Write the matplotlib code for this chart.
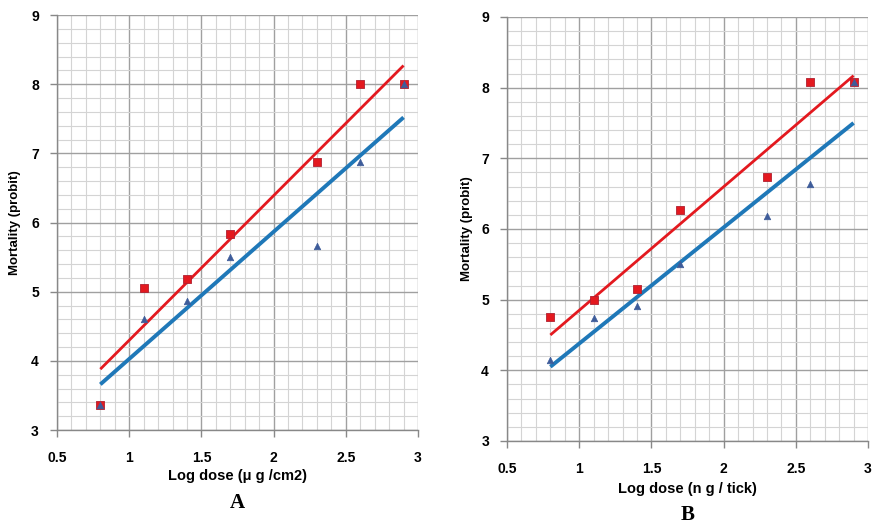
import matplotlib
matplotlib.use("Agg")
import matplotlib.pyplot as plt
import numpy as np
from matplotlib.ticker import MultipleLocator

plt.rcParams['font.family'] = ['Liberation Sans', 'DejaVu Sans']

log_dose = [0.8, 1.1, 1.4, 1.7, 2.3, 2.6, 2.9]

# Panel A
a_red = [3.36, 5.05, 5.18, 5.83, 6.88, 8.0, 8.0]
a_blue = [3.36, 4.60, 4.86, 5.50, 5.66, 6.88, 8.0]
a_red_fit = [3.88, 8.27]
a_blue_fit = [3.66, 7.52]

# Panel B
b_red = [4.75, 5.00, 5.15, 6.27, 6.74, 8.08, 8.08]
b_blue = [4.15, 4.74, 4.91, 5.50, 6.19, 6.63, 8.08]
b_red_fit = [4.50, 8.17]
b_blue_fit = [4.05, 7.50]

fit_x = [0.8, 2.9]

x_ticks = [0.5, 1, 1.5, 2, 2.5, 3]
x_tick_labels = ['0.5', '1', '1.5', '2', '2.5', '3']
y_ticks = [3, 4, 5, 6, 7, 8, 9]

fig = plt.figure(figsize=(8.73, 5.29), dpi=100)

RED = '#E3191F'
BLUE = '#1F78B8'
TRI = '#3E5C9A'

def panel(rect, red, blue, red_fit, blue_fit, xlabel, letter, xl_y, let_y, yl_x):
    ax = fig.add_axes(rect)
    ax.set_xlim(0.5, 3)
    ax.set_ylim(3, 9)
    ax.xaxis.set_minor_locator(MultipleLocator(0.1))
    ax.yaxis.set_minor_locator(MultipleLocator(0.2))
    ax.set_xticks(x_ticks)
    ax.set_xticklabels(x_tick_labels)
    ax.set_yticks(y_ticks)
    ax.grid(which='major', color='#a0a0a0', lw=1.0, zorder=0)
    ax.grid(which='minor', color='#d4d4d4', lw=0.8, zorder=0)
    ax.set_axisbelow(True)
    for s in ['top', 'right']:
        ax.spines[s].set_visible(False)
    for s in ['left', 'bottom']:
        ax.spines[s].set_color('#888888')
        ax.spines[s].set_linewidth(1.0)
    ax.tick_params(which='major', length=5, color='#888888', width=1,
                   labelsize=10)
    ax.tick_params(axis='x', which='major', pad=10)
    ax.tick_params(axis='y', which='major', pad=8)
    ax.tick_params(which='minor', length=0)
    for lab in ax.get_xticklabels() + ax.get_yticklabels():
        lab.set_fontweight('bold')
    ax.plot(fit_x, red_fit, color=RED, lw=2.0, zorder=3, solid_capstyle='butt')
    ax.plot(fit_x, blue_fit, color=BLUE, lw=2.8, zorder=3, solid_capstyle='butt')
    ax.scatter(log_dose, red, marker='s', s=34, color=RED,
               edgecolors='#B02030', linewidths=0.6, zorder=4, clip_on=False)
    ax.scatter(log_dose, blue, marker='^', s=22, color=TRI,
               edgecolors=TRI, linewidths=0.5, zorder=5, clip_on=False)
    ax.set_ylabel('Mortality (probit)', fontsize=9.5, fontweight='bold')
    ax.yaxis.set_label_coords(yl_x, 0.5)
    ax.text(0.5, xl_y, xlabel, transform=ax.transAxes, ha='center',
            va='center', fontsize=10.5, fontweight='bold')
    ax.text(0.5, let_y, letter, transform=ax.transAxes, ha='center',
            va='center', fontsize=15, fontweight='bold',
            family=['Liberation Serif', 'DejaVu Serif'])
    return ax

panel([0.0653, 0.1871, 0.4135, 0.7845], a_red, a_blue, a_red_fit, a_blue_fit,
      'Log dose (\u03bc g /cm2)', 'A', -0.11, -0.175, -0.1)
panel([0.5808, 0.1664, 0.4135, 0.8015], b_red, b_blue, b_red_fit, b_blue_fit,
      'Log dose (n g / tick)', 'B', -0.113, -0.175, -0.095)

fig.savefig('out.png', dpi=100)
